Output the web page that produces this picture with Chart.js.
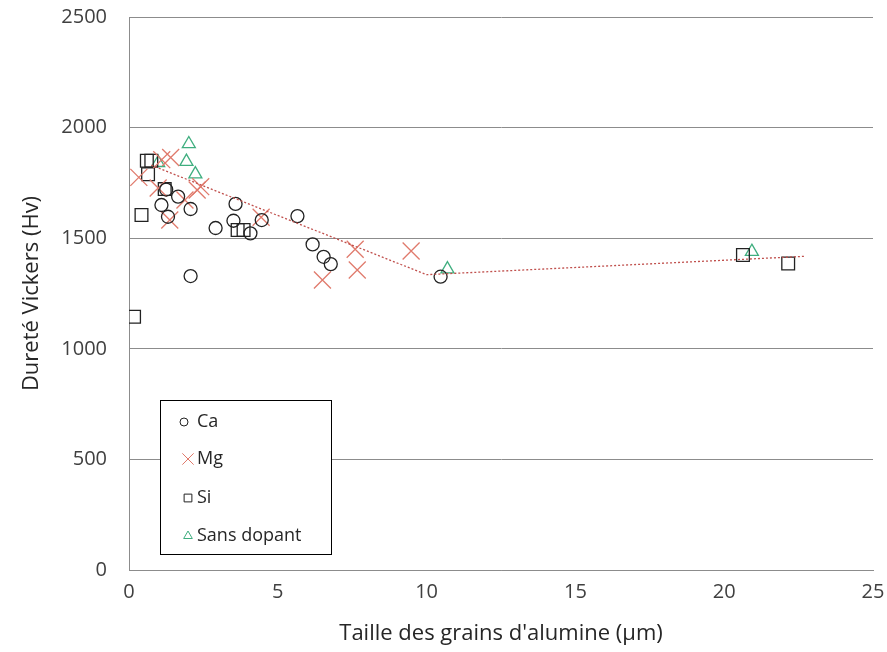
<!DOCTYPE html>
<html>
<head>
<meta charset="utf-8">
<script src="https://cdn.jsdelivr.net/npm/chart.js@4"></script>
<style>
 html, body { margin: 0; padding: 0; background: #fff; }
 #wrap { width: 887px; height: 652px; }
</style>
</head>
<body>
<div id="wrap"><canvas id="myChart" width="887" height="652"></canvas></div>
<script>
'use strict';

// valeurs
var caX = [1.65, 1.09, 1.31, 2.07, 2.07, 1.25, 2.91, 3.58, 3.51, 4.08, 4.46, 5.66, 6.17, 6.54, 6.78, 10.47];
var caY = [1688, 1650, 1597, 1632, 1329, 1720, 1546, 1655, 1579, 1522, 1582, 1600, 1472, 1416, 1383, 1326];
var mgX = [0.33, 1.1, 1.4, 0.98, 2.29, 1.88, 1.37, 2.41, 4.44, 6.5, 7.6, 7.67, 9.48];
var mgY = [1775, 1855, 1865, 1727, 1718, 1673, 1582, 1733, 1595, 1311, 1450, 1356, 1442];
var siX = [0.6, 0.75, 0.64, 1.2, 0.42, 0.17, 3.65, 3.85, 20.63, 22.15];
var siY = [1850, 1850, 1789, 1722, 1605, 1145, 1537, 1537, 1424, 1386];
var sdX = [2.01, 1.93, 2.23, 0.98, 10.7, 20.93];
var sdY = [1926, 1846, 1790, 1841, 1360, 1439];
var trendX = [0.75, 10, 22.7];
var trendY = [1830, 1335, 1418];
var yTicks = [0, 500, 1000, 1500, 2000, 2500];
var xTicks = [0, 5, 10, 15, 20, 25];

var FONT = "'Open Sans', sans-serif";

function pts(xs, ys) {
  return xs.map(function (x, i) { return { x: x, y: ys[i] }; });
}

var series = [
  { label: 'Ca', xs: caX, ys: caY, style: 'circle', color: '#222', radius: 6.5, lr: 4, lx: 184 },
  { label: 'Mg', xs: mgX, ys: mgY, style: 'crossRot', color: '#e07a6c', radius: 12, lr: 8, lx: 188 },
  { label: 'Si', xs: siX, ys: siY, style: 'rect', color: '#222', radius: 9, lr: 5.5, lx: 188 },
  { label: 'Sans dopant', xs: sdX, ys: sdY, style: 'triangle', color: '#3fae7f', radius: 7.5, lr: 5, lx: 188 }
];
var legendY = [422, 459, 498, 536];

var datasets = [{
  label: 'tendance',
  data: pts(trendX, trendY),
  showLine: true,
  borderColor: '#c0504d',
  borderWidth: 1.3,
  borderDash: [2, 2],
  pointRadius: 0,
  fill: false,
  order: 0
}];

series.forEach(function (s) {
  datasets.push({
    label: s.label,
    data: pts(s.xs, s.ys),
    pointStyle: s.style,
    pointRadius: s.radius,
    pointBorderColor: s.color,
    pointBackgroundColor: 'rgba(0,0,0,0)',
    pointBorderWidth: 1.3,
    showLine: false,
    order: 1
  });
});

// légende encadrée dans la zone du graphique
var boxLegend = {
  id: 'boxLegend',
  afterDraw: function (chart) {
    var c = chart.ctx;
    var left = 160, top = 400, w = 171, h = 154;
    c.save();
    c.fillStyle = '#fff';
    c.fillRect(left, top, w, h);
    c.strokeStyle = '#000';
    c.lineWidth = 1;
    c.strokeRect(left + 0.5, top + 0.5, w, h);
    series.forEach(function (s, i) {
      var y = legendY[i];
      c.strokeStyle = s.color;
      c.fillStyle = 'rgba(0,0,0,0)';
      c.lineWidth = 1;
      Chart.helpers.drawPoint(c, { pointStyle: s.style, radius: s.lr, borderWidth: 1 }, s.lx, y);
      c.fillStyle = '#262626';
      c.font = '18px ' + FONT;
      c.textBaseline = 'middle';
      c.fillText(s.label, 197, y);
    });
    c.restore();
  }
};

var ctx = document.getElementById('myChart');
new Chart(ctx, {
  type: 'scatter',
  data: { datasets: datasets },
  plugins: [boxLegend],
  options: {
    responsive: false,
    animation: false,
    layout: { padding: { top: 17, right: 14, left: 0, bottom: 0 }, autoPadding: false },
    plugins: { legend: { display: false }, tooltip: { enabled: false } },
    scales: {
      x: {
        type: 'linear',
        min: 0, max: 25,
        afterBuildTicks: function (scale) { scale.ticks = xTicks.map(function (v) { return { value: v }; }); },
        afterFit: function (scale) { scale.height = 82; scale.paddingLeft = 0; scale.paddingRight = 0; },
        grid: { display: false, drawTicks: false },
        border: { display: true, color: '#8c8c8c', width: 1 },
        ticks: { color: '#404040', font: { family: FONT, size: 20 }, padding: 10, maxRotation: 0,
                 callback: function (v) { return String(v); } },
        title: { display: true, text: "Taille des grains d'alumine (µm)", color: '#262626', font: { family: FONT, size: 22 }, padding: { top: 5, bottom: 5 } }
      },
      y: {
        type: 'linear',
        min: 0, max: 2500,
        afterBuildTicks: function (scale) { scale.ticks = yTicks.map(function (v) { return { value: v }; }); },
        afterFit: function (scale) { scale.width = 129; scale.paddingTop = 0; scale.paddingBottom = 0; },
        grid: { color: '#8c8c8c', lineWidth: 1, drawTicks: false },
        border: { display: true, color: '#8c8c8c', width: 1 },
        ticks: { color: '#404040', font: { family: FONT, size: 20 }, padding: 22,
                 callback: function (v) { return String(v); } },
        title: { display: true, text: 'Dureté Vickers (Hv)', color: '#262626', font: { family: FONT, size: 22 }, padding: { top: 19, bottom: 0 } }
      }
    }
  }
});
</script>
</body>
</html>
